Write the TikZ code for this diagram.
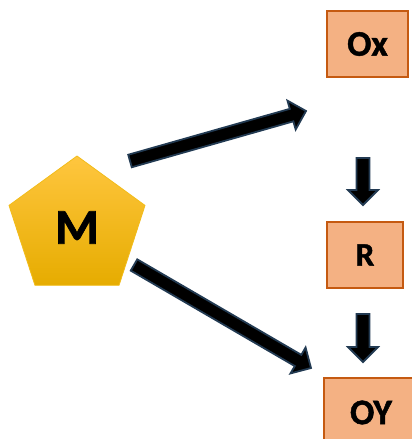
\documentclass[tikz,border=0pt]{standalone}
\usepackage{fontspec}
\setmainfont{Carlito}[BoldFeatures={FakeBold=1.3}]
\usetikzlibrary{calc,shapes.geometric}
\definecolor{boxfill}{HTML}{F4B183}
\definecolor{boxedge}{HTML}{C55A11}
\definecolor{arrowedge}{HTML}{223A52}
\definecolor{goldtop}{HTML}{FFC63F}
\definecolor{goldbot}{HTML}{E6AC00}
\definecolor{goldedge}{HTML}{F2BC1A}
\tikzset{
  stage/.style={draw=boxedge, fill=boxfill, line width=1.6pt, inner sep=0pt,
    font=\bfseries\fontsize{36}{36}\selectfont, text=black},
  metal/.style={regular polygon, regular polygon sides=5, minimum size=143pt,
    inner sep=0pt, draw=goldedge, line width=0.8pt, top color=goldtop, bottom color=goldbot,
    font=\bfseries\fontsize{50}{50}\selectfont, text=black},
  blockarrow/.style={draw=arrowedge, fill=black, line width=1.8pt, line join=miter},
}
% block arrow from #1 (tail centre) to #2 (tip)
\newcommand\blockarr[2]{%
  \coordinate (#1h) at ($(#2)!15pt!(#1)$);
  \draw[blockarrow] ($(#1)!6.5pt!90:(#2)$) -- ($(#1h)!6.5pt!90:(#2)$) -- ($(#1h)!15pt!90:(#2)$)
    -- (#2) -- ($(#1h)!15pt!-90:(#2)$) -- ($(#1h)!6.5pt!-90:(#2)$) -- ($(#1)!6.5pt!-90:(#2)$) -- cycle;
}
\begin{document}
\begin{tikzpicture}[x=1pt,y=-1pt]
\useasboundingbox (0,0) rectangle (412,439);
\clip (0,0) rectangle (412,439);
\node[metal] (M) at (77,227.5) {\raisebox{-4.5pt}{M}};
\node[stage, minimum width=81pt, minimum height=66pt] (Ox) at (367.5,44) {\raisebox{-3pt}{Ox}};
\node[stage, minimum width=76pt, minimum height=66pt, font=\bfseries\fontsize{33}{33}\selectfont] (R) at (365,255) {\raisebox{-1pt}{R}};
\node[stage, minimum width=98pt, minimum height=66pt, anchor=north west] (OY) at (323,377) {};
\node[font=\bfseries\fontsize{36}{36}\selectfont, inner sep=0pt] (OYt) at (371,412.5) {OY};
% arrow anchor points
\coordinate (a1) at (130,161);
\coordinate (b1) at (306,111);
\coordinate (a2) at (134,265);
\coordinate (b2) at (311,368);
\coordinate (a3) at (363,158);
\coordinate (b3) at (363,205);
\coordinate (a4) at (363,314);
\coordinate (b4) at (363,362);
\blockarr{a1}{b1}
\blockarr{a2}{b2}
\blockarr{a3}{b3}
\blockarr{a4}{b4}
\end{tikzpicture}
\end{document}
